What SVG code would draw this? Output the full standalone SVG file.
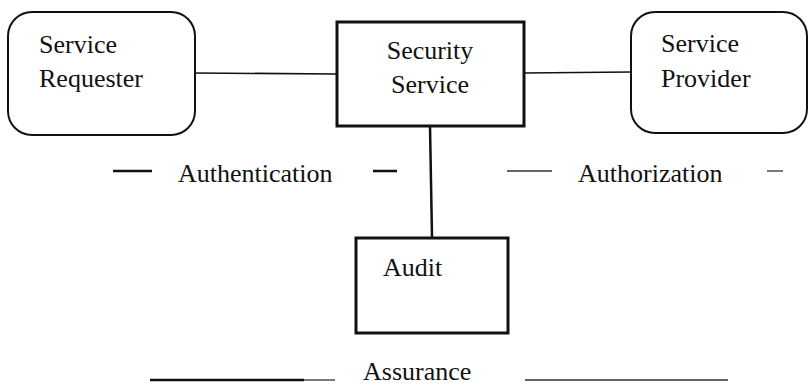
<svg xmlns="http://www.w3.org/2000/svg" width="809" height="386" viewBox="0 0 809 386">
<style>
text{font-family:"Liberation Serif","Times New Roman",serif;font-size:26px;fill:#111}
.rr{fill:#fff;stroke:#111;stroke-width:2}
.bx{fill:#fff;stroke:#111;stroke-width:3}
.ln{stroke:#111;stroke-width:1.6;fill:none}
.dk{stroke:#111;stroke-width:2.5;fill:none}
.lt{stroke:#333;stroke-width:1.3;fill:none}
</style>
<rect width="809" height="386" fill="#fff"/>
<g id="connectors">
<line class="ln" x1="195" y1="73" x2="337" y2="74"/>
<line class="ln" x1="524" y1="73" x2="631" y2="72"/>
<line class="dk" x1="430" y1="126" x2="432" y2="237"/>
</g>
<g id="service-requester">
<rect class="rr" x="8" y="12" width="187" height="123" rx="24"/>
<text x="39" y="53">Service</text>
<text x="39" y="87">Requester</text>
</g>
<g id="security-service">
<rect class="bx" x="337" y="22" width="187" height="104"/>
<text x="430" y="59" text-anchor="middle">Security</text>
<text x="430" y="93" text-anchor="middle">Service</text>
</g>
<g id="service-provider">
<rect class="rr" x="631" y="12" width="176" height="121" rx="24"/>
<text x="661" y="52">Service</text>
<text x="661" y="87">Provider</text>
</g>
<g id="audit">
<rect class="bx" x="356" y="238" width="152" height="95"/>
<text x="383" y="276">Audit</text>
</g>
<g id="authentication">
<line class="dk" x1="113" y1="171" x2="152" y2="171"/>
<text x="178" y="182">Authentication</text>
<line class="dk" x1="373" y1="171" x2="397" y2="171"/>
</g>
<g id="authorization">
<line class="lt" x1="507" y1="171" x2="552" y2="171"/>
<text x="578" y="182">Authorization</text>
<line class="lt" x1="767" y1="171" x2="783" y2="171"/>
</g>
<g id="assurance">
<line class="dk" x1="150" y1="380" x2="304" y2="380"/>
<line class="lt" x1="304" y1="380" x2="335" y2="380"/>
<text x="363" y="380">Assurance</text>
<line class="lt" x1="525" y1="380" x2="728" y2="380"/>
</g>
</svg>
